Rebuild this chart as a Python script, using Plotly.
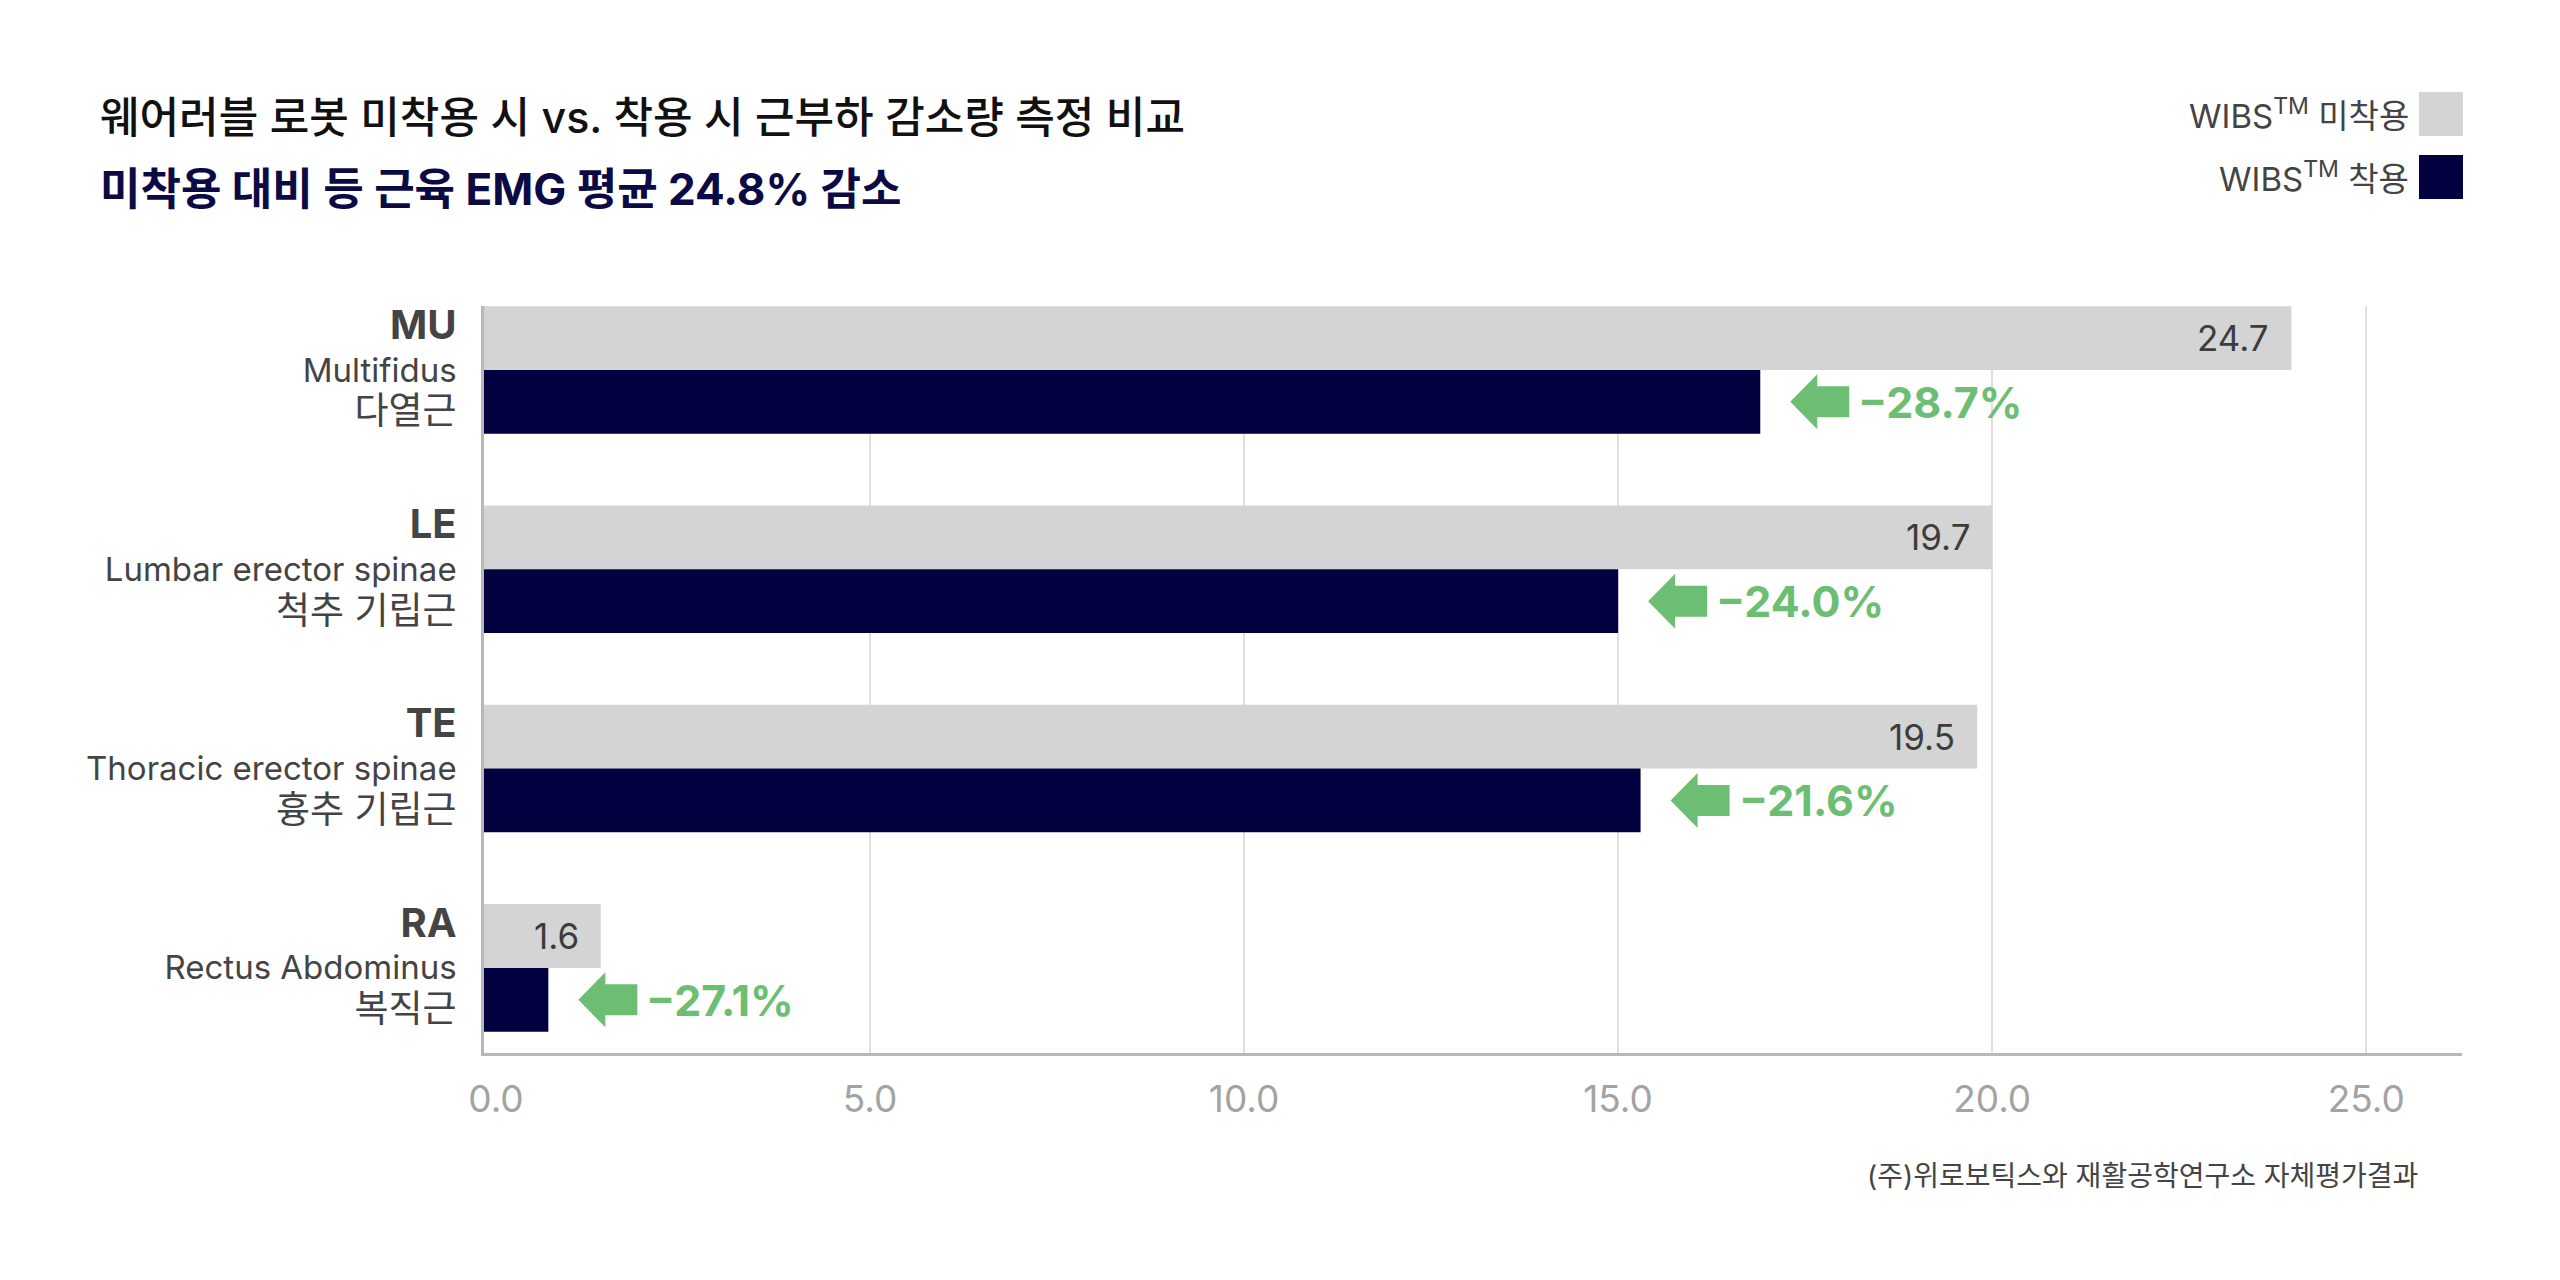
import plotly.graph_objects as go

# muscle groups, top to bottom
abbr = ["MU", "LE", "TE", "RA"]
names_en = ["Multifidus", "Lumbar erector spinae", "Thoracic erector spinae", "Rectus Abdominus"]
names_ko = ["다열근", "척추 기립근", "흉추 기립근", "복직근"]

# bar lengths as drawn in the picture
without_wibs = [24.0, 20.0, 19.8, 1.4]
with_wibs = [16.9, 15.0, 15.3, 0.7]
# printed values on the grey bars and the reduction callouts
without_labels = ["24.7", "19.7", "19.5", "1.6"]
reduction = [28.7, 24.0, 21.6, 27.1]

x_ticks = [0, 5, 10, 15, 20, 25]

GREY = "#d4d4d4"
NAVY = "#02003f"
GREEN = "#6cbe72"
FONT = "Inter, Noto Sans CJK KR, sans-serif"

# the page body adds an 8px margin, so everything is laid out 8px up/left
OFF = 8
W, H = 2560 - OFF, 1280 - OFF
L, T = 484 - OFF, 306 - OFF
R, B = W - (2462 - OFF), H - (1053 - OFF)
X_MIN, X_MAX = -0.16, 26.28
BAR_W = 0.32


def px_x(p):
    # p is a pixel position in the 2560x1280 screenshot
    return (p - OFF - L) / (W - L - R)


def px_y(p):
    return (H - B - (p - OFF)) / (H - T - B)


pos = list(range(len(abbr)))

fig = go.Figure()
fig.add_trace(go.Bar(
    y=pos, x=[v - X_MIN for v in without_wibs], base=X_MIN,
    orientation="h", width=BAR_W, offset=-BAR_W,
    marker=dict(color=GREY, line=dict(width=0)),
    name="WIBS™ 미착용", hoverinfo="skip",
))
fig.add_trace(go.Bar(
    y=pos, x=[v - X_MIN for v in with_wibs], base=X_MIN,
    orientation="h", width=BAR_W, offset=0,
    marker=dict(color=NAVY, line=dict(width=0)),
    name="WIBS™ 착용", hoverinfo="skip",
))

annotations = []
shapes = []

# value labels inside grey bars
for i, (v, t) in enumerate(zip(without_wibs, without_labels)):
    annotations.append(dict(
        x=v, y=i - BAR_W / 2, xref="x", yref="y", text=t, showarrow=False,
        xanchor="right", yanchor="middle", xshift=-20,
        font=dict(size=35, color="#3c3c3c", family=FONT),
    ))

# green arrows and reduction text next to navy bars
arrow_path = "M30,0 L57,27.5 L57,15.5 L89,15.5 L89,-15.5 L57,-15.5 L57,-27.5 Z"
for i, (v, r) in enumerate(zip(with_wibs, reduction)):
    shapes.append(dict(
        type="path", xref="x", yref="y", xsizemode="pixel", ysizemode="pixel",
        xanchor=v, yanchor=i + BAR_W / 2, path=arrow_path,
        fillcolor=GREEN, line=dict(width=0), layer="above",
    ))
    annotations.append(dict(
        x=v, y=i + BAR_W / 2, xref="x", yref="y", text=f"<b>−{r:.1f}%</b>",
        showarrow=False, xanchor="left", yanchor="middle", xshift=96,
        font=dict(size=43, color=GREEN, family=FONT),
    ))

# titles
annotations.append(dict(
    x=px_x(98), y=px_y(117), xref="paper", yref="paper",
    text="웨어러블 로봇 미착용 시 vs. 착용 시 근부하 감소량 측정 비교",
    showarrow=False, xanchor="left", yanchor="middle",
    font=dict(size=43, color="#111111", family=FONT, weight=500),
))
annotations.append(dict(
    x=px_x(98), y=px_y(189), xref="paper", yref="paper",
    text="<b>미착용 대비 등 근육 EMG 평균 24.8% 감소</b>",
    showarrow=False, xanchor="left", yanchor="middle",
    font=dict(size=44, color="#0b0a45", family=FONT),
))

# legend, swatches on the right
legend_items = [("WIBS<sup>TM</sup> 미착용", GREY, 92), ("WIBS<sup>TM</sup> 착용", NAVY, 155)]
for text, color, top in legend_items:
    shapes.append(dict(
        type="rect", xref="paper", yref="paper",
        x0=px_x(2419), x1=px_x(2463), y0=px_y(top + 44), y1=px_y(top),
        fillcolor=color, line=dict(width=0),
    ))
    annotations.append(dict(
        x=px_x(2411), y=px_y(top + 22), xref="paper", yref="paper", text=text,
        showarrow=False, xanchor="right", yanchor="middle",
        font=dict(size=33, color="#444444", family=FONT),
    ))

# source note
annotations.append(dict(
    x=px_x(2420), y=px_y(1176), xref="paper", yref="paper",
    text="(주)위로보틱스와 재활공학연구소 자체평가결과",
    showarrow=False, xanchor="right", yanchor="middle",
    font=dict(size=28, color="#444444", family=FONT),
))

tick_text = [
    f"<span style='font-size:40px'><b>{a}</b></span><br>{e}<br>"
    f"<span style='font-size:37px'>{k}</span>"
    for a, e, k in zip(abbr, names_en, names_ko)
]

fig.update_layout(
    width=W, height=H, autosize=False,
    margin=dict(l=L, r=R, t=T, b=B, pad=0),
    paper_bgcolor="white", plot_bgcolor="white",
    barmode="overlay", showlegend=False,
    font=dict(family=FONT),
    annotations=annotations, shapes=shapes,
    xaxis=dict(
        range=[X_MIN, X_MAX], tickvals=x_ticks, tickformat=".1f",
        showgrid=True, gridcolor="#e0e0e0", gridwidth=1.5,
        zeroline=True, zerolinecolor="white", zerolinewidth=2,
        showline=True, linecolor="#b8b8b8", linewidth=2.5,
        ticks="", ticklabelstandoff=12,
        tickfont=dict(size=37, color="#a3a3a3", family=FONT),
    ),
    yaxis=dict(
        range=[3.427, -0.321], tickvals=pos, ticktext=tick_text,
        showgrid=False, zeroline=False,
        showline=True, linecolor="#b8b8b8", linewidth=2.5,
        ticks="", ticklabelstandoff=18,
        tickfont=dict(size=33, color="#444444", family=FONT),
    ),
)

fig.write_html("out.html")
